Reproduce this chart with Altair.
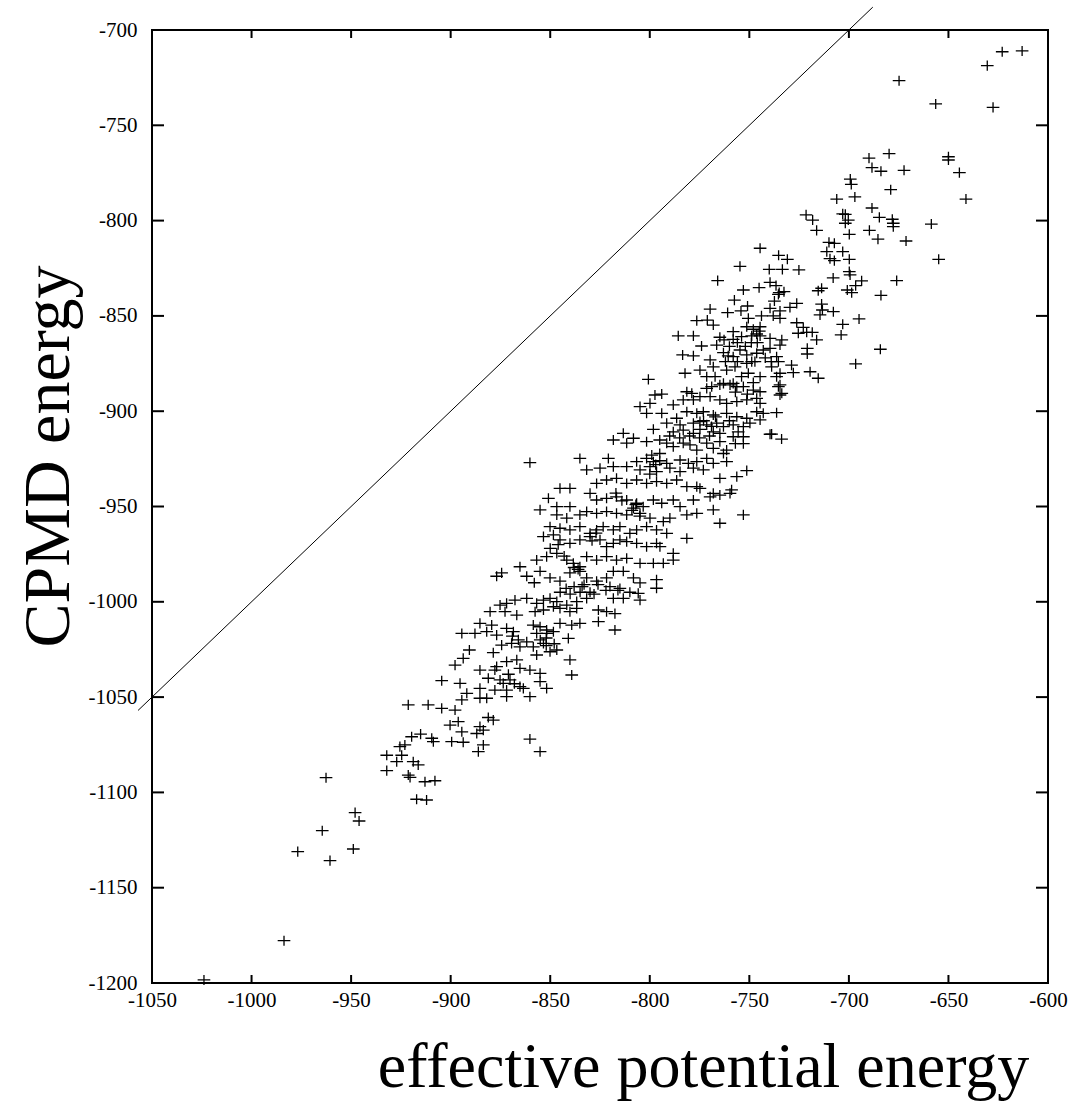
import altair as alt
import pandas as pd

# (effective potential energy, CPMD energy) pairs, by region
upper = [(-623,-711.4),(-613,-711),(-630.5,-718.7),(-674.8,-726.6),(-656.4,-738.8),(-627.6,-740.6),
(-679.8,-764.9),(-689.9,-767.2),(-650,-766.5),(-650,-768.2),(-688.4,-772.2),(-683.9,-774.1),(-672.3,-773.6),
(-644.5,-774.8),(-699.3,-778.2),(-698.8,-781),(-679,-783.8),(-706.1,-788.7),(-697,-787.6),(-641.2,-788.7),
(-688.4,-793.4),(-721.5,-797),(-718.2,-799.7),(-703.1,-796.5),(-701.8,-796.7),(-700.3,-799.7),(-701.8,-801.4),
(-684.7,-798.3),(-678.2,-799.3),(-677.7,-801.4),(-677.7,-803.2),(-658.6,-801.8),(-716.2,-805.1),(-699.8,-807.2),
(-689.7,-805.1),(-685.4,-809.7),(-671.3,-810.7),(-744.6,-814.5),(-735.3,-818.2),(-730.9,-820.3),(-710,-811.4),
(-707.3,-811.9),(-711.1,-816.3),(-703.1,-816.3),(-709.5,-820),(-707.3,-821),(-699.8,-820.3),(-654.9,-820.3),
(-754.7,-824),(-740,-825.6),(-733.4,-825.6),(-725.1,-825.9),(-699.8,-826.8),(-699.4,-828.5),(-707.9,-830.1),
(-693.6,-831.6),(-696.6,-834.1),(-698.6,-837.8),(-676,-831.5),(-683.9,-839.2),(-694.9,-851.6),(-684.2,-867.5),
(-696.6,-875.2)]

middle = [(-765.9,-831.5),(-739.6,-832.4),(-736.6,-834.1),(-745.1,-835.2),(-753,-836.4),(-735,-837.8),
(-732.6,-837.3),(-700.8,-836.4),(-715.4,-836.8),(-713.7,-835.5),(-757.5,-841.7),(-737.4,-842.2),(-735.4,-838.7),
(-750.9,-844.8),(-726.2,-843.4),(-729.6,-845.5),(-713.7,-843.8),(-713.3,-846.9),(-714.5,-849.5),(-707.8,-847.8),
(-769.7,-846.4),(-760.9,-848.3),(-754.2,-847.4),(-739.6,-846),(-734.6,-847.4),(-734.6,-851.3),(-738,-850),
(-743.9,-850),(-750.5,-851.3),(-776.4,-852.5),(-771.1,-852.2),(-768.1,-854.8),(-703.1,-854.4),(-726.2,-853.6),
(-722.9,-856),(-725.4,-859.1),(-721.2,-858.6),(-718.4,-858.6),(-751.3,-855.7),(-744.6,-855.7),(-758.1,-858.3),
(-785.7,-860.5),(-778.1,-860.5),(-764.8,-861.2),(-766.4,-865.3),(-762.7,-862.6),(-758.1,-862.3),(-753.9,-860.9),
(-748.8,-860.5),(-746.3,-859.5),(-744.6,-860.5),(-739.6,-861.8),(-734.6,-865.3),(-733.7,-862.6),(-703.9,-860),
(-716.2,-862.6),(-720.9,-867),(-720.9,-870),(-783.5,-870.5),(-778.1,-871),(-774,-865.8),(-769.7,-873.1),
(-763,-869.3),(-760.6,-871),(-758.1,-871.4),(-754.7,-867.9),(-751.3,-870.5),(-748.8,-874),(-746.3,-869.6),
(-743,-867.9),(-739.6,-867),(-736.3,-871.4),(-735.4,-874),(-728.8,-875.8),(-727.9,-879.8),(-719.5,-879.3),
(-715.4,-882.7),(-738.8,-876.7),(-734.6,-880.1),(-736.3,-881.9),(-744.6,-881.9),(-734.6,-886.2),(-733.7,-890.6),
(-751.3,-874.9),(-747.2,-874),(-757.2,-876.7),(-761.4,-878.4),(-768.1,-876.7),(-774.8,-878.4),(-782.3,-880.1),
(-771.4,-881.9),(-767.2,-881.9),(-764.8,-886.2),(-758.1,-885.4),(-753.9,-881.9),(-750.5,-880.1),(-800.7,-883.3),
(-797.4,-891.5),(-794,-891),(-799.9,-895.9),(-804.9,-897.6),(-801.6,-901.1),(-794,-901.1),(-788.2,-896.7),
(-781.4,-889.8),(-778.9,-890.6),(-771.4,-888),(-768.9,-887.1),(-763,-885.4),(-759.7,-886.2),(-756.3,-887.1),
(-753,-887.1),(-748,-888.9),(-744.6,-889.8),(-734.6,-891.5),(-735.4,-887.1),(-783.2,-894.1),(-778.1,-894.1),
(-774.8,-892.4),(-769.7,-892.4),(-764.8,-894.1),(-761.4,-895.9),(-756.3,-895),(-751.3,-894.1),(-746.3,-893.3),
(-744.6,-895.9),(-786.5,-903.7),(-781.4,-900.3),(-776.4,-901.1),(-773.1,-900.3),(-768.1,-902),(-761.4,-901.1),
(-756.3,-902.9),(-751.3,-903.7),(-746.3,-900.3),(-743,-901.1),(-736.3,-900.8),(-791.5,-906.3),(-784.8,-907.2),
(-771.4,-907.2),(-766.4,-906.3),(-758.1,-907.2),(-753,-908.1),(-749.7,-906.3),(-738.8,-912),(-733.8,-914.6),
(-760,-866),(-756,-864),(-752,-866),(-749,-864),(-746,-864),(-742,-872),(-739,-874),(-756,-874),(-762,-874),
(-745,-858),(-748,-857),(-757,-890),(-751,-891),(-748,-885),(-773,-905),(-769,-908)]

core = [(-778.1,-906.3),(-774.8,-905.4),(-763,-908.1),(-744.6,-904.6),(-798.2,-909.5),(-788.2,-910.8),
(-783.2,-909.9),(-778.1,-911.6),(-774.8,-909.5),(-768.1,-910.8),(-764.8,-911.6),(-758.1,-913.4),(-755.6,-910.8),
(-753,-913.4),(-739.6,-912.1),(-818.3,-915.1),(-813.3,-911.6),(-811.6,-916.8),(-808.2,-914.2),(-801.6,-916),
(-795,-915.1),(-791.5,-916.8),(-788.2,-918.6),(-783.2,-916.8),(-779.8,-917.7),(-776.4,-920.4),(-771.4,-916.8),
(-768.1,-919.5),(-764.8,-916),(-761.4,-920.4),(-835.1,-924.8),(-820.8,-924.8),(-860.2,-927),(-806.6,-926.5),
(-801.6,-924.8),(-798.2,-926.5),(-795,-922.2),(-791.5,-927.4),(-784.8,-925.6),(-780.6,-927.4),(-776.4,-926.5),
(-771.4,-924.8),(-768.1,-927.4),(-763,-922.2),(-761.4,-926.5),(-831.7,-930.8),(-825,-929.9),(-818.3,-929.1),
(-811.6,-929.1),(-804.9,-930.8),(-799.9,-929.1),(-796.6,-931.7),(-789.9,-929.9),(-784.8,-931.7),(-778.1,-929.9),
(-773.1,-930.8),(-764.8,-935.2),(-756.3,-934.3),(-751.3,-931.2),(-845.1,-940.5),(-840.1,-940.5),(-826.7,-937.9),
(-821.7,-936.1),(-816.7,-935.2),(-811.6,-937.9),(-806.6,-936.1),(-801.6,-937.9),(-796.6,-937),(-791.5,-937.9),
(-786.5,-936.1),(-781.4,-939.6),(-774.8,-940.5),(-768.1,-943.1),(-764.8,-944),(-759.7,-943.1),(-850.9,-945.7),
(-846.7,-950.1),(-855.1,-951.8),(-840.1,-950.1),(-830,-943.1),(-826.7,-946.6),(-821.7,-945.7),(-816.7,-944.9),
(-811.6,-946.6),(-806.6,-948.3),(-803.3,-950.1),(-798.2,-946.6),(-794,-948.3),(-788.2,-946.6),(-784.8,-950.1),
(-778.1,-946.6),(-769.7,-944.9),(-768.1,-951.8),(-753,-954.4),(-776.4,-953.6),(-846.7,-954.4),(-841.7,-956.1),
(-835.1,-954.4),(-831.7,-952.7),(-826.7,-953.6),(-821.7,-952.7),(-816.7,-953.6),(-811.6,-954.4),(-808.2,-950.9),
(-804.9,-953.6),(-799.9,-956.1),(-793.2,-957.9),(-789.9,-956.1),(-781.4,-954.4),(-764.8,-958.8),(-850.1,-960.6),
(-845.1,-961.4),(-840.1,-962.3),(-835.1,-960.6),(-830,-964.1),(-826.7,-962.3),(-823.4,-960.6),(-818.3,-962.3),
(-815,-960.6),(-810,-964.1),(-806.6,-962.3),(-801.6,-960.6),(-796.6,-962.3),(-791.5,-964.1),(-794.9,-971.1),
(-781.4,-966.7),(-853.4,-965.8),(-848.4,-964.9),(-845.1,-967.5),(-840.1,-969.3),(-835.1,-967.5),(-830,-965.8),
(-825,-967.5),(-821.7,-971.1),(-818.3,-969.3),(-815,-967.5),(-811.6,-968.4),(-806.6,-969.3),(-801.6,-971.1),
(-796.6,-969.3),(-865.2,-981.6),(-856.8,-978.1),(-851.8,-976.3),(-846.7,-974.6),(-841.7,-978.1),(-838.4,-979.8),
(-835.1,-981.6),(-831.7,-976.3),(-826.7,-978.1),(-821.7,-976.3),(-816.7,-978.1),(-811.6,-977.2),(-804.9,-979.8),
(-798.2,-979.8),(-793.2,-979.8),(-788.2,-978.1),(-876.9,-986.6),(-874.4,-984.8),(-861.8,-986.6),(-855.1,-984),
(-850.1,-987.5),(-845.1,-989.2),(-840.1,-984.8),(-835.1,-984),(-831.7,-987.5),(-826.7,-989.2),(-821.7,-987.5),
(-818.3,-984),(-813.3,-984),(-808.2,-987.5),(-804.9,-990.1),(-796.6,-988.4),(-758.9,-941.3),(-776.4,-939.6),
(-788.2,-974.6),
(-799,-923),(-797,-928),(-800,-933),(-795,-926),(-807,-949),(-809,-952),(-805,-955),(-817,-943),(-814,-947),
(-829,-968),(-827,-964),(-836,-983),(-833,-991),(-843,-976),(-838,-982),(-838,-992),(-830,-995),(-850,-972),
(-846,-970),(-858,-990),(-790,-913),(-785,-914),(-780,-913),(-775,-914),(-770,-913),(-767,-903),(-760,-905),
(-757,-917),(-753,-917)]

lower = [(-796.6,-992.9),(-818.3,-998.2),(-813.3,-998.2),(-805.8,-995.6),(-804.9,-999.1),(-875.2,-1001.7),
(-871.9,-1000.8),(-867.7,-999.1),(-861.8,-998.2),(-856.8,-1000.8),(-853.4,-999.1),(-850.1,-998.2),(-846.7,-999.9),
(-841.7,-1001.7),(-836.7,-999.9),(-831.7,-998.2),(-880.2,-1005.2),(-872.7,-1005.2),(-866.8,-1007),(-857.6,-1005.2),
(-853.4,-1004.3),(-848.4,-1002.6),(-845.1,-1003.5),(-840.1,-1005.2),(-836.7,-1003.5),(-825.8,-1004.3),
(-821.7,-1005.2),(-817.5,-1006.2),(-885.3,-1011.3),(-879.4,-1012.2),(-871.9,-1013.9),(-868.5,-1015.7),
(-858.5,-1012.2),(-855.1,-1013.1),(-851.8,-1014.8),(-845.1,-1011.3),(-839.2,-1012.2),(-835.1,-1011.3),
(-825.8,-1010.4),(-894.4,-1016.6),(-887.8,-1016.6),(-881.9,-1015.7),(-876.9,-1017.5),(-856.8,-1016.6),
(-851.8,-1016.6),(-848.4,-1015.7),(-840.9,-1019.2),(-817.5,-1014.8),(-874.4,-1022.7),(-869.4,-1021.8),
(-865.2,-1023.6),(-861.8,-1021),(-858.5,-1023.6),(-853.4,-1021.8),(-850.1,-1026.2),(-846.7,-1025.3),
(-856.8,-1027.9),(-890.6,-1025.3),(-878.6,-1026.7),(-893.7,-1029.7),(-897.8,-1033.2),(-871.9,-1031.4),
(-866.8,-1030.5),(-865.2,-1034.9),(-876.9,-1034),(-877.8,-1035.8),(-885.3,-1035.8),(-860.2,-1035.8),
(-855.1,-1037.5),(-840.1,-1030.5),(-839.2,-1038.4),(-881.1,-1040.1),(-904.5,-1041.4),(-895.3,-1042.8),
(-875.2,-1041),(-873.6,-1042.8),(-870.2,-1041),(-855.1,-1041.9),(-851.8,-1045.4),(-863.5,-1045.4),
(-865.2,-1044.5),(-885.3,-1045.4),(-877.8,-1046.3),(-871.9,-1046.3),(-891.9,-1048),(-894.4,-1051.5),
(-885.3,-1050.6),(-881.9,-1050.6),(-871.9,-1049.8),(-860.2,-1049.8),(-921.3,-1054.1),(-911.3,-1054.1),
(-904.5,-1055.9),(-897.8,-1056.8),(-881.1,-1060.7),(-878.6,-1062.1),(-896.2,-1062.9),(-900.3,-1064.7),
(-885.3,-1065.5),(-894.4,-1068.2),(-886.9,-1069.1),(-883.6,-1067.3),(-915.1,-1069.4),(-919.6,-1070.8),
(-909.5,-1071.6),(-908.7,-1073.4),(-899.5,-1073.4),(-893.7,-1073.7),(-860.2,-1072),(-855.1,-1078.6),
(-923,-1075.1),(-925.5,-1076),(-883.6,-1075.1),(-886.1,-1078.6),(-932.1,-1080.5),(-924.6,-1080.5),
(-927.1,-1083.9),(-918.8,-1083.9),(-916.3,-1085.6),(-932.1,-1088.6),(-921.3,-1090.9),
(-855,-1020),(-852,-1023),(-848,-1022),(-852,-1019),(-869,-1018),(-866,-1020),(-845,-995),(-840,-996),
(-835,-995),(-828,-996),(-822,-994),(-816,-994),(-842,-993),(-834,-992),(-826,-991),(-820,-992),(-815,-993),
(-810,-995),(-871,-1038),(-868,-1043)]

tail = [(-920.4,-1092.1),(-912.9,-1094.4),(-907.9,-1093.9),(-917.1,-1103.6),(-912.1,-1104),(-962.6,-1092.3),
(-948,-1110.6),(-946,-1115),(-964.5,-1120.1),(-976.8,-1131.1),(-960.6,-1135.8),(-948.9,-1129.7),
(-983.7,-1177.8),(-1023.9,-1198.4)]

x_ticks = [-1050, -1000, -950, -900, -850, -800, -750, -700, -650, -600]
y_ticks = [-1200, -1150, -1100, -1050, -1000, -950, -900, -850, -800, -750, -700]
diag_x = [-1057, -688]
diag_y = [-1057, -688]

W, H = 896, 953
FONT = "Liberation Serif"
LABEL_EXPR = "'' + datum.value"

pts = pd.DataFrame(upper + middle + core + lower + tail, columns=["eff", "cpmd"])
xscale = alt.Scale(domain=[-1050, -600], nice=False, zero=False)
yscale = alt.Scale(domain=[-1200, -700], nice=False, zero=False)

xaxis = alt.Axis(values=x_ticks, ticks=False, tickSize=0, grid=False, domain=False,
                 labelExpr=LABEL_EXPR,
                 labelFont=FONT, labelFontSize=21, labelColor="black", labelPadding=6,
                 labelFlush=False, labelOverlap=False,
                 title="effective potential energy", titleFont=FONT, titleFontSize=64,
                 titleFontWeight="normal", titleColor="black", titleX=551, titleY=103,
                 titleAlign="center", titleBaseline="alphabetic")
yaxis = alt.Axis(values=y_ticks, ticks=False, tickSize=0, grid=False, domain=False,
                 labelExpr=LABEL_EXPR,
                 labelFont=FONT, labelFontSize=21, labelColor="black", labelPadding=15,
                 labelFlush=False, labelOverlap=False, labelBaseline="middle",
                 title="CPMD energy", titleFont=FONT, titleFontSize=66,
                 titleFontWeight="normal", titleColor="black", titleX=-84, titleY=426,
                 titleAngle=270, titleAlign="center", titleBaseline="alphabetic")

cross = "M-1,0H1M0,-0.8V0.8"
points = alt.Chart(pts).mark_point(shape=cross, filled=False, stroke="black",
                                   strokeWidth=1.3, size=160, opacity=1).encode(
    x=alt.X("eff:Q", scale=xscale, axis=xaxis),
    y=alt.Y("cpmd:Q", scale=yscale, axis=yaxis),
)

diag = alt.Chart(pd.DataFrame({"eff": diag_x, "cpmd": diag_y})).mark_line(
    color="black", strokeWidth=1, clip=False).encode(
    x=alt.X("eff:Q", scale=xscale), y=alt.Y("cpmd:Q", scale=yscale))

xt = pd.DataFrame({"v": x_ticks})
yt = pd.DataFrame({"v": y_ticks})
bottom_ticks = alt.Chart(xt).mark_rule(color="black", strokeWidth=2).encode(
    x=alt.X("v:Q", scale=xscale), y=alt.value(H), y2=alt.value(H - 8))
top_ticks = alt.Chart(xt).mark_rule(color="black", strokeWidth=2).encode(
    x=alt.X("v:Q", scale=xscale), y=alt.value(0), y2=alt.value(8))
left_ticks = alt.Chart(yt).mark_rule(color="black", strokeWidth=2).encode(
    y=alt.Y("v:Q", scale=yscale), x=alt.value(0), x2=alt.value(12))
right_ticks = alt.Chart(yt).mark_rule(color="black", strokeWidth=2).encode(
    y=alt.Y("v:Q", scale=yscale), x=alt.value(W), x2=alt.value(W - 12))

chart = alt.layer(points, diag, bottom_ticks, top_ticks, left_ticks, right_ticks).properties(
    width=W, height=H,
    autosize=alt.AutoSizeParams(type="none"),
    padding={"left": 152, "top": 30, "right": 24, "bottom": 121},
    background="white",
).configure_view(stroke="black", strokeWidth=2)

chart.save("out.html", embed_options={"renderer": "svg", "actions": False})
